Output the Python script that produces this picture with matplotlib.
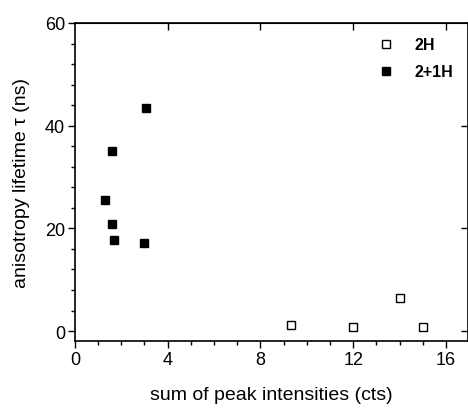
import numpy as np
import matplotlib
matplotlib.use('Agg')
import matplotlib.pyplot as plt
from matplotlib.ticker import MultipleLocator

plt.rcParams['font.family'] = ['Liberation Sans', 'DejaVu Sans']

# 2H (open squares)
x_2h = [9.3, 12.0, 14.0, 15.0]
y_2h = [1.1, 0.8, 6.5, 0.8]

# 2+1H (filled squares)
x_21h = [3.06, 1.58, 1.32, 1.61, 1.69, 2.97]
y_21h = [43.5, 35.0, 25.6, 20.9, 17.8, 17.1]

fig = plt.figure(figsize=(4.68, 4.10), dpi=100)
ax = fig.add_axes([0.160, 0.165, 0.839, 0.7765])

ax.plot(x_2h, y_2h, ls='none', marker='s', ms=6.2, mfc='white', mec='black',
        mew=1.0, label='2H')
ax.plot(x_21h, y_21h, ls='none', marker='s', ms=6.2, mfc='black', mec='black',
        label='2+1H')

ax.set_xlim(0, 16.93)
ax.set_ylim(-2, 60)
ax.xaxis.set_major_locator(MultipleLocator(4))
ax.xaxis.set_minor_locator(MultipleLocator(1))
ax.yaxis.set_major_locator(MultipleLocator(20))
ax.yaxis.set_minor_locator(MultipleLocator(4))

for s in ax.spines.values():
    s.set_linewidth(1.2)

ax.tick_params(which='both', direction='out', width=1.0, labelsize=13,
               top=False, right=False, pad=2)
ax.tick_params(which='major', length=5)
ax.tick_params(which='minor', length=3)

# mirrored major ticks pointing inward on top and right
axt = ax.secondary_xaxis('top')
axt.set_xticks([4, 8, 12, 16])
axt.tick_params(direction='in', length=5, width=1.0, labeltop=False)
axr = ax.secondary_yaxis('right')
axr.set_yticks([0, 20, 40])
axr.tick_params(direction='in', length=5, width=1.0, labelright=False)

ax.set_xlabel('sum of peak intensities (cts)', fontsize=14, labelpad=13)
ax.set_ylabel('anisotropy lifetime \u03c4 (ns)', fontsize=14, labelpad=11)

leg = ax.legend(loc='upper right', frameon=False, markerscale=0.95,
                handlelength=1.0, handletextpad=1.3, labelspacing=0.75,
                prop={'weight': 'bold', 'size': 11.5}, borderaxespad=0.5)

fig.savefig('out.png', dpi=100)
